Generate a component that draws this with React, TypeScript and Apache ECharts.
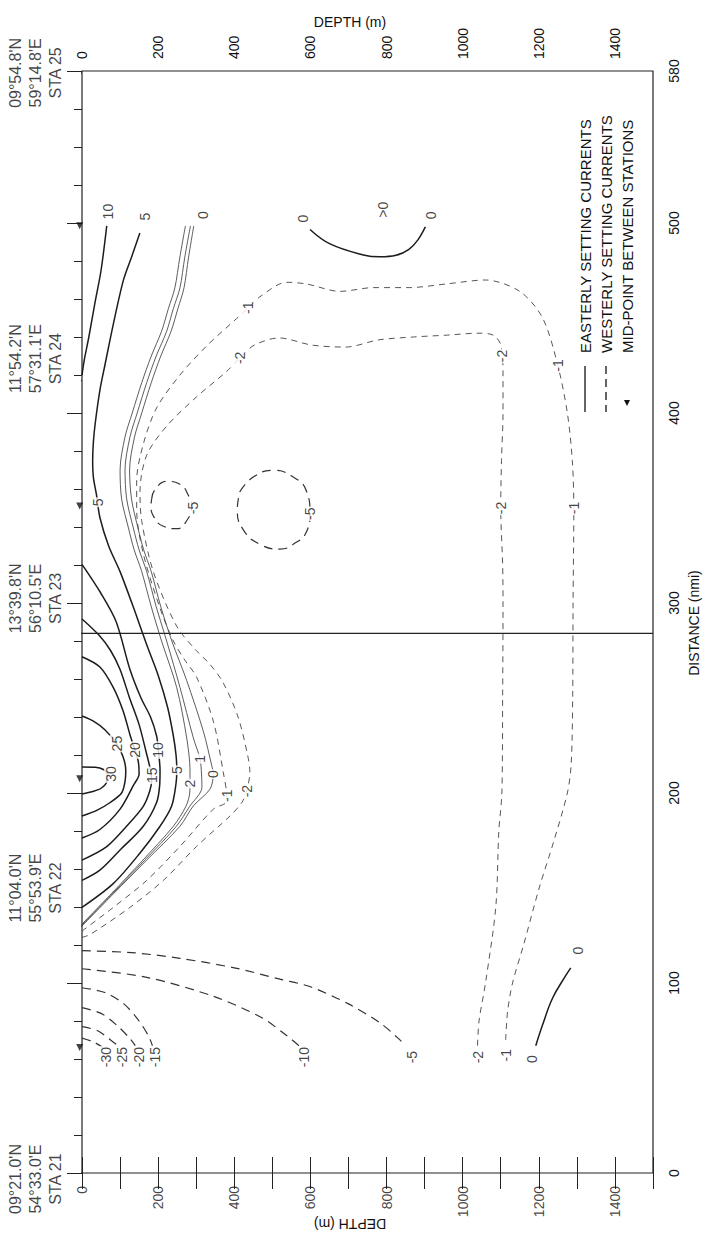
import React, { useEffect, useRef } from "react";
import * as echarts from "echarts";

const FONT = "'Liberation Sans', Arial, sans-serif";

// ---------- axes ----------
const DEPTH_MIN = 0;
const DEPTH_MAX = 1500;
const DIST_MIN = 0;
const DIST_MAX = 580;
const depthLabelValues = [0, 200, 400, 600, 800, 1000, 1200, 1400];
const depthTickValues = [0, 100, 200, 300, 400, 500, 600, 700, 800, 900, 1000, 1100, 1200, 1300, 1400, 1500];
const distanceLabelValues = [0, 100, 200, 300, 400, 500, 580];

// ---------- stations ----------
const stationNames = ["STA 21", "STA 22", "STA 23", "STA 24", "STA 25"];
const stationLat = ["09°21.0'N", "11°04.0'N", "13°39.8'N", "11°54.2'N", "09°54.8'N"];
const stationLon = ["54°33.0'E", "55°53.9'E", "56°10.5'E", "57°31.1'E", "59°14.8'E"];
const stationDist = [0, 130, 284, 417, 579];
const midPoints = [66, 207.5, 351, 498.5];

// ---------- contours: [depth m, distance nmi] ----------
// Easterly (solid) currents
const e30 = [[0, 213.7], [35, 213.5], [55, 212.5], [66, 210], [65, 206], [50, 202.5], [28, 200.8], [0, 199.5]];
const e25 = [[0, 240.5], [30, 237.8], [60, 233.3], [91, 226], [108, 219], [115, 212], [113, 206], [104, 200], [74, 195], [40, 191], [0, 187.9]];
const e20 = [[0, 271.7], [47, 266.3], [82, 255.6], [108, 243.2], [126, 230.7], [139, 222.6], [148, 216.4], [150, 210], [135, 204], [100, 191.5], [47, 180.8], [0, 176.3]];
const e15 = [[0, 291.6], [45, 283], [75, 275], [100, 265], [125, 250], [150, 236], [168, 222], [180, 212], [183, 207], [178, 201], [161, 193], [117, 182.5], [65, 171.8], [0, 164.7]];
const e10Dome = [[0, 320.3], [50, 305], [90, 290], [126, 265], [155, 250], [180, 240], [196, 230], [200.5, 222.6], [205, 212], [204, 204], [196, 195], [161, 182.5], [100, 170], [47, 159.4], [0, 154]];
const e10Top = [[65, 498.5], [50, 475], [34, 458], [18, 440], [6, 428], [0, 420]];
const e5 = [[152, 494.7], [130, 482], [108.6, 469.8], [82.3, 446.8], [60, 425], [47.3, 412.3], [35, 395], [30, 385], [28, 375], [30, 366], [38, 357], [47, 345], [70, 330], [100, 316.5], [140, 295], [170, 278], [200, 262], [225, 245], [240, 230], [247, 220], [249, 212], [247, 205], [235.5, 193.2], [205, 182.5], [152, 168.3], [82, 152.3], [0, 139.8]];
const e2 = [[271.7, 498.5], [257, 482], [244, 465.9], [227, 455], [209, 443], [182, 430], [157, 416], [132, 400], [113, 387.4], [100, 370], [104, 354.8], [122, 339.5], [137, 328], [157, 316.5], [182, 298], [209, 280], [248.7, 255.6], [275, 229], [283.7, 212], [283.7, 205], [283, 200], [273, 193], [240, 182.5], [160, 164.7], [77, 147], [0, 131]];
const e1 = [[284.9, 498.5], [270, 482], [257.4, 465.9], [240, 455], [222.4, 443], [195, 430], [170, 416], [145, 400], [126, 387.4], [113, 370], [117.3, 354.8], [134.8, 339.5], [150, 328], [170, 316.5], [195, 298], [222.4, 280], [257.4, 255.6], [292.5, 229], [310, 218], [314, 210], [315, 203], [283, 193], [248, 182.5], [165, 164.7], [80, 147], [0, 130.5]];
const e0 = [[293.6, 498.5], [280, 482], [268, 465.9], [252, 455], [234, 443], [207, 430], [182, 416], [157, 400], [138, 387.4], [125, 370], [130, 354.8], [147, 339.5], [162, 328], [182, 316.5], [207, 298], [236, 280], [275, 259.2], [318.7, 232.5], [340.6, 214.6], [345, 210], [336, 202], [292.5, 193.2], [257.4, 182.5], [169.9, 164.7], [82.3, 146.9], [0, 130]];
const e0Arc = [[599, 496.6], [651.5, 489], [739, 483.2], [783, 482.2], [825, 483], [858, 486], [882, 491], [902, 498]];
const e0Deep = [[1192, 67], [1210, 78], [1236, 92], [1271, 104], [1284, 108]];

// Westerly (dashed) currents
const w30 = [[0, 71], [30, 69], [55, 66]];
const w25 = [[0, 77], [40, 75], [75, 70], [95, 67]];
const w20 = [[0, 87], [50, 84], [90, 78], [125, 71], [140, 67]];
const w15 = [[0, 97.5], [60, 95], [110, 89], [150, 80], [175, 72], [185, 67]];
const w10 = [[0, 107.5], [170, 103], [345, 93], [470, 82], [540, 72], [570, 67]];
const w5 = [[0, 117], [130, 116], [257, 113], [400, 108], [520, 102], [600, 98], [700, 89], [783, 79], [830, 71], [850, 67]];
const w5Small = [[183, 354.8], [191.8, 359.6], [222.4, 364], [257.4, 362.5], [279.3, 356.7], [288, 351], [275, 343.3], [248.7, 339.1], [213.6, 340.4], [189, 345.2], [181.3, 351], [183, 354.8]];
const w5Big = [[415, 358.7], [450, 366.3], [502.5, 369.8], [555, 366.3], [590, 358.7], [599, 347.2], [590, 337.6], [555, 330.9], [520, 328.4], [467.5, 330.9], [423.8, 338.5], [408, 349.1], [415, 358.7]];
const w2 = [[1039, 67], [1043, 80], [1060, 100], [1087, 140], [1095, 180], [1103, 200], [1105, 250], [1106, 300], [1105, 320], [1100, 350], [1102, 375], [1106, 400], [1106, 420], [1100, 436], [1080, 441], [1040, 442], [960, 441], [870, 440], [780, 438.5], [692.6, 434.7], [605, 435.7], [517.5, 439.5], [452.4, 435.7], [415, 429], [380, 421.9], [301, 408.5], [222.4, 393.1], [170, 377.8], [152.4, 358.7], [156.7, 343.4], [187.4, 316.5], [248.7, 287.8], [300, 275], [335, 268], [371, 258], [410, 240], [435, 220], [441, 211], [432.5, 201], [420, 195], [388.8, 187.9], [301, 171.9], [213.6, 154], [126, 139.8], [21, 125.5], [0, 124]];
const w1 = [[1113, 70], [1118, 85], [1131, 100], [1160, 120], [1201, 150], [1240, 175], [1275, 200], [1285, 215], [1289, 250], [1290, 300], [1292, 350], [1288, 375], [1275, 400], [1250, 425], [1210, 450], [1150, 464], [1060, 470], [960, 468], [860, 466], [765, 466], [677.6, 464], [590, 467.9], [537.5, 468.8], [467.5, 461.2], [436.9, 455.4], [406, 449.7], [327.5, 435.3], [257.4, 420], [196, 402.7], [161, 383.6], [143.6, 364.4], [143.6, 349], [161, 326], [204.9, 297.3], [240, 280], [270, 270], [301, 261], [345, 237.8], [371, 211], [380, 198.6], [378, 195], [345, 191.5], [257.4, 171.9], [170, 154], [82.3, 139.8], [0, 127.3]];

// Contour labels: [depth, distance, text]
const eastLabels: [number, number, string][] = [
  [76, 210, "30"], [91, 226, "25"], [139, 222.6, "20"], [183, 209.3, "15"], [200.5, 222.6, "10"],
  [248.7, 212, "5"], [283.7, 205, "2"], [310, 218, "1"], [345, 210, "0"],
  [69, 506, "10"], [165.5, 503.3, "5"], [318.7, 504.2, "0"], [42.9, 353, "5"],
  [581, 502.3, "0"], [790, 507, ">0"], [918, 504, "0"],
  [1183, 60, "0"], [1302, 117, "0"],
];
const westLabels: [number, number, string][] = [
  [62, 61, "-30"], [106, 61, "-25"], [150, 61, "-20"], [192, 61, "-15"], [582, 61, "-10"], [867, 61, "-5"],
  [1039, 61, "-2"], [1113, 62, "-1"], [292, 350, "-5"], [598, 347, "-5"],
  [380, 198.6, "-1"], [432.5, 201, "-2"], [436.9, 455.4, "-1"], [415, 429, "-2"],
  [1292, 350, "-1"], [1100, 350, "-2"], [1104, 430, "-2"], [1250, 425, "-1"],
];

type Kind = "east" | "eastThin" | "west" | "westThin";
const contourList: { data: number[][]; kind: Kind; smooth: number }[] = [
  { data: e30, kind: "east", smooth: 0.3 },
  { data: e25, kind: "east", smooth: 0.3 },
  { data: e20, kind: "east", smooth: 0.3 },
  { data: e15, kind: "east", smooth: 0.3 },
  { data: e10Dome, kind: "east", smooth: 0.3 },
  { data: e10Top, kind: "east", smooth: 0.3 },
  { data: e5, kind: "east", smooth: 0.3 },
  { data: e2, kind: "eastThin", smooth: 0.3 },
  { data: e1, kind: "eastThin", smooth: 0.3 },
  { data: e0, kind: "eastThin", smooth: 0.3 },
  { data: e0Arc, kind: "east", smooth: 0.4 },
  { data: e0Deep, kind: "east", smooth: 0.4 },
  { data: w30, kind: "west", smooth: 0.3 },
  { data: w25, kind: "west", smooth: 0.3 },
  { data: w20, kind: "west", smooth: 0.3 },
  { data: w15, kind: "west", smooth: 0.3 },
  { data: w10, kind: "west", smooth: 0.3 },
  { data: w5, kind: "west", smooth: 0.3 },
  { data: w5Small, kind: "west", smooth: 0.5 },
  { data: w5Big, kind: "west", smooth: 0.5 },
  { data: w2, kind: "westThin", smooth: 0.3 },
  { data: w1, kind: "westThin", smooth: 0.3 },
];

const lineStyles: Record<Kind, any> = {
  east: { color: "#1c1c1c", width: 1.5, type: "solid" },
  eastThin: { color: "#333", width: 0.8, type: "solid" },
  west: { color: "#333", width: 1.2, type: [9, 6] },
  westThin: { color: "#444", width: 0.9, type: [6, 5] },
};

// label shift along the axis (px, positive = up)
const stationLabelShift = [-6, 38, 35, 22, 0];

function buildOption() {
  const series: any[] = [];
  contourList.forEach((c) => {
    series.push({
      type: "line",
      data: c.data,
      smooth: c.smooth,
      symbol: "none",
      silent: true,
      lineStyle: lineStyles[c.kind],
      z: 3,
    });
  });

  // station ticks and the STA 23 line
  stationDist.forEach((d, i) => {
    series.push({
      type: "line",
      data: i === 2 ? [[-38, d], [DEPTH_MAX, d]] : [[-38, d], [0, d]],
      symbol: "none",
      clip: false,
      silent: true,
      lineStyle: { color: "#222", width: 1.2 },
      z: 2,
    });
  });

  // mid-point triangles
  series.push({
    type: "scatter",
    data: midPoints.map((m) => [-6, m]),
    symbol: "triangle",
    symbolRotate: 180,
    symbolSize: [7, 7],
    clip: false,
    itemStyle: { color: "#111" },
    z: 4,
  });

  // station labels
  series.push({
    type: "scatter",
    data: stationDist.map((d, i) => ({
      value: [-123, d],
      name: stationLat[i] + "\n" + stationLon[i] + "\n" + stationNames[i],
      label: { offset: [stationLabelShift[i], 0] },
    })),
    symbolSize: 0,
    clip: false,
    silent: true,
    label: {
      show: true,
      position: "inside",
      rotate: 90,
      formatter: "{b}",
      fontFamily: FONT,
      fontSize: 16,
      lineHeight: 20,
      color: "#111",
      align: "center",
    },
    z: 5,
  });

  // bottom depth tick labels (rotated, below the frame)
  series.push({
    type: "scatter",
    data: depthLabelValues.map((v) => ({ value: [v, DIST_MIN], name: String(v) })),
    symbolSize: 0,
    clip: false,
    silent: true,
    label: {
      show: true,
      position: "inside",
      rotate: 90,
      formatter: "{b}",
      align: "right",
      verticalAlign: "middle",
      offset: [-13, 0],
      fontFamily: FONT,
      fontSize: 14,
      color: "#111",
    },
    z: 5,
  });

  const labelSeries = (arr: [number, number, string][]) => ({
    type: "scatter",
    data: arr.map((l) => ({ value: [l[0], l[1]], name: l[2] })),
    symbolSize: 0,
    silent: true,
    clip: false,
    label: {
      show: true,
      position: "inside",
      rotate: 90,
      formatter: "{b}",
      fontFamily: FONT,
      fontSize: 14,
      color: "#111",
      backgroundColor: "#fff",
      padding: [0, 1],
    },
    z: 6,
  });
  series.push(labelSeries(eastLabels));
  series.push(labelSeries(westLabels));

  const xAxisBase = {
    type: "value",
    min: DEPTH_MIN,
    max: DEPTH_MAX,
    interval: 100,
    splitLine: { show: false },
    axisLine: { show: false },
    axisTick: { show: true, inside: true, length: 16, customValues: depthTickValues, lineStyle: { color: "#222", width: 1 } },
  };

  const grid = { left: 82, right: 51, top: 71, bottom: 61, show: true, borderColor: "#222", borderWidth: 1.2, backgroundColor: "#fff" };

  const T = (text: string, x: number, y: number, rotation: number, align: string, size = 14) => ({
    type: "text",
    x,
    y,
    rotation,
    style: { text, fill: "#111", fontSize: size, fontFamily: FONT, align, verticalAlign: "middle" },
    z: 10,
  });

  const graphic = [
    T("DEPTH (m)", 350, 22, 0, "center"),
    T("DEPTH (m)", 350, 1224, Math.PI, "center"),
    T("DISTANCE (nmi)", 694, 623, Math.PI / 2, "center"),
    T("EASTERLY SETTING CURRENTS", 585, 353, Math.PI / 2, "left", 15),
    T("WESTERLY SETTING CURRENTS", 606, 353, Math.PI / 2, "left", 15),
    T("MID-POINT BETWEEN STATIONS", 627, 353, Math.PI / 2, "left", 15),
    { type: "line", shape: { x1: 585, y1: 366, x2: 585, y2: 412 }, style: { stroke: "#111", lineWidth: 1.3 }, z: 10 },
    { type: "line", shape: { x1: 606, y1: 366, x2: 606, y2: 412 }, style: { stroke: "#111", lineWidth: 1.3, lineDash: [8, 5] }, z: 10 },
    { type: "polygon", shape: { points: [[624, 400], [630, 400], [627, 406]] }, style: { fill: "#111" }, z: 10 },
  ];

  return {
    animation: false,
    backgroundColor: "#fff",
    grid,
    xAxis: [
      { ...xAxisBase, position: "bottom", axisLabel: { show: false } },
      {
        ...xAxisBase,
        position: "top",
        axisLabel: {
          rotate: 90,
          margin: 12,
          fontSize: 14,
          fontFamily: FONT,
          color: "#111",
          customValues: depthLabelValues,
          formatter: (v: number) => String(v),
        },
      },
    ],
    yAxis: [
      {
        type: "value",
        position: "right",
        min: DIST_MIN,
        max: DIST_MAX,
        interval: 20,
        splitLine: { show: false },
        axisLine: { show: false },
        axisTick: { show: true, inside: true, length: 8, lineStyle: { color: "#222" } },
        axisLabel: {
          rotate: 90,
          margin: 14,
          fontSize: 14,
          fontFamily: FONT,
          color: "#111",
          customValues: distanceLabelValues,
          formatter: (v: number) => String(v),
        },
      },
      {
        type: "value",
        position: "right",
        min: DIST_MIN,
        max: DIST_MAX,
        interval: 100,
        splitLine: { show: false },
        axisLine: { show: false },
        axisTick: { show: true, inside: true, length: 15, lineStyle: { color: "#222" } },
        axisLabel: { show: false },
      },
    ],
    series,
    graphic,
  };
}

export default function App() {
  const ref = useRef<HTMLDivElement>(null);
  useEffect(() => {
    if (!ref.current) return;
    const chart = echarts.init(ref.current, null, { renderer: "svg" });
    chart.setOption(buildOption() as any);
    return () => chart.dispose();
  }, []);
  return (
    <div
      ref={ref}
      style={{ position: "fixed", left: 0, top: 0, width: 704, height: 1234, background: "#fff" }}
    />
  );
}
